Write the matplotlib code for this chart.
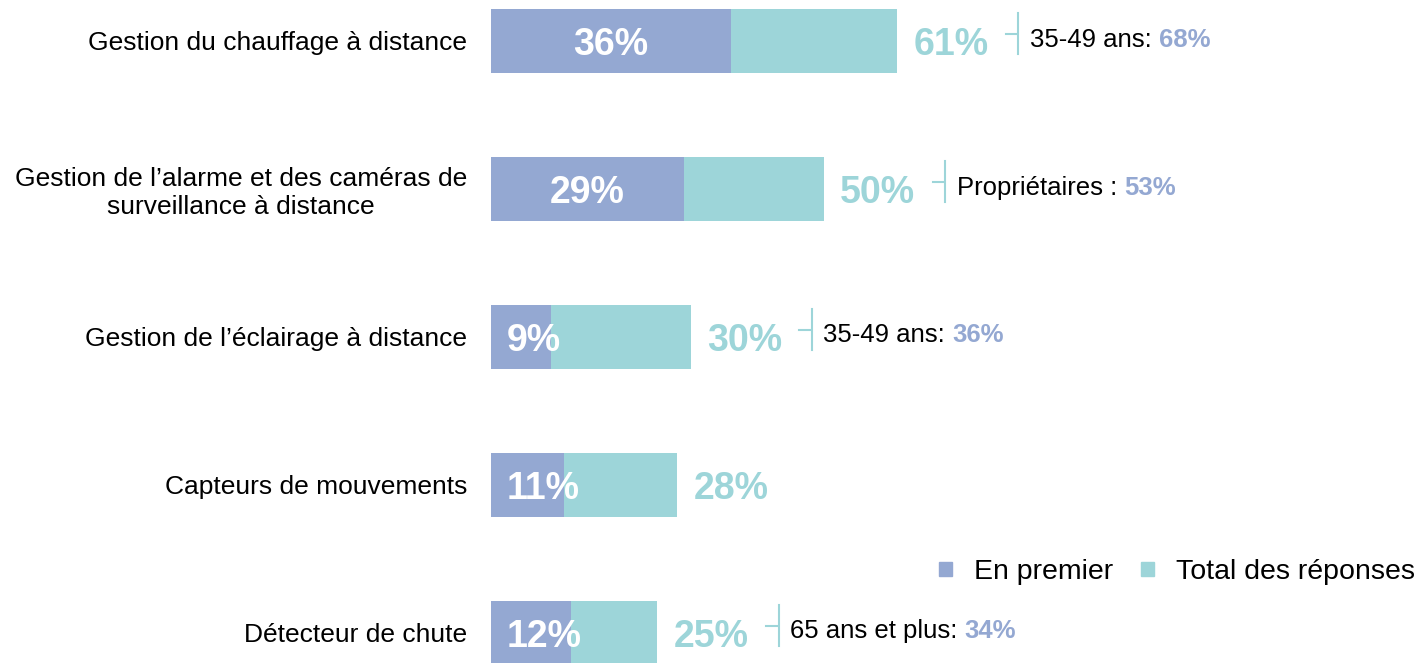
import matplotlib
matplotlib.use("Agg")
import matplotlib.pyplot as plt
from matplotlib.patches import Patch

# ---------- Style ----------
plt.rcParams["font.family"] = ["Liberation Sans", "DejaVu Sans"]

BLUE = "#94A8D2"
TEAL = "#9DD5D9"

# ---------- Data ----------
categories = [
    "Gestion du chauffage à distance",
    "Gestion de l’alarme et des caméras de\nsurveillance à distance",
    "Gestion de l’éclairage à distance",
    "Capteurs de mouvements",
    "Détecteur de chute",
]
en_premier = [36, 29, 9, 11, 12]
total = [61, 50, 30, 28, 25]
note_text = ["35-49 ans: ", "Propriétaires : ", "35-49 ans: ", None, "65 ans et plus: "]
note_value = ["68%", "53%", "36%", None, "34%"]

legend_labels = ["En premier", "Total des réponses"]

# ---------- Plot ----------
fig = plt.figure(figsize=(14.26, 6.63), dpi=100)
ax = fig.add_axes([491 / 1426, 0, 1 - 491 / 1426, 1])

y = list(range(len(categories)))
ax.barh(y, total, height=0.43, color=TEAL)
ax.barh(y, en_premier, height=0.43, color=BLUE)

ax.set_xlim(0, 140.4)
ax.set_ylim(4.203, -0.277)

ax.set_yticks(y)
ax.set_yticklabels(categories, fontsize=19, multialignment="center")
ax.tick_params(axis="y", length=0, pad=17)
ax.set_xticks([])
for s in ax.spines.values():
    s.set_visible(False)

for i, (p, t) in enumerate(zip(en_premier, total)):
    # first-choice value inside the bar
    if p < 15:
        ax.text(2.4, i + 0.03, f"{p}%", ha="left", va="center", color="white",
                fontsize=27, fontweight="bold")
    else:
        ax.text(p / 2, i + 0.03, f"{p}%", ha="center", va="center", color="white",
                fontsize=27, fontweight="bold")
    # total value right of the bar
    ax.text(t + 2.4, i + 0.03, f"{t}%", ha="left", va="center", color=TEAL,
            fontsize=27, fontweight="bold")

    # sub-group note with a small bracket
    if note_text[i] is None:
        continue
    xb = t + 18.2
    ax.plot([xb, xb], [i - 0.19, i + 0.09], color=TEAL, lw=1.5)
    ax.plot([xb - 1.9, xb - 0.3], [i - 0.05, i - 0.05], color=TEAL, lw=1.5)
    t1 = ax.text(xb + 1.7, i - 0.01, note_text[i], ha="left", va="center",
                 fontsize=18.5, color="black")
    ax.annotate(note_value[i], xy=(1, 0), xycoords=t1, ha="left", va="bottom",
                fontsize=18.5, fontweight="bold", color=BLUE)

handles = [Patch(color=BLUE), Patch(color=TEAL)]
fig.legend(handles, legend_labels, loc="center right",
           bbox_to_anchor=(1.0, 1 - 572 / 663), frameon=False,
           ncol=2, fontsize=20.5, handlelength=0.46, handleheight=0.35,
           handletextpad=0.75, columnspacing=1.0, borderaxespad=0.0)

fig.savefig("out.png", dpi=100, facecolor="white")
